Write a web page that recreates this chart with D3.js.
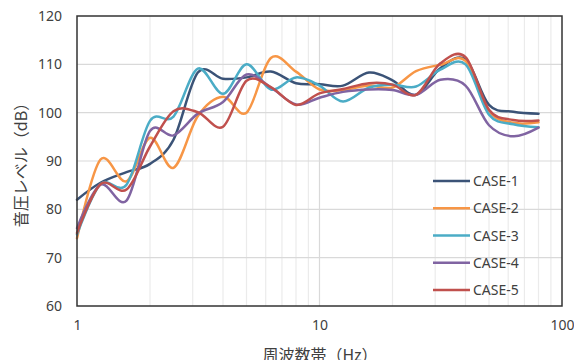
<!DOCTYPE html>
<html>
<head>
<meta charset="utf-8">
<script src="https://cdn.jsdelivr.net/npm/d3@7"></script>
<style>
  html, body { margin: 0; padding: 0; background: #fff; }
  svg { display: block; }
  text { font-family: "Noto Sans", "Noto Sans CJK JP", sans-serif; fill: #404040; }
  .jp { font-family: "Noto Sans CJK JP", sans-serif; }
</style>
</head>
<body>
<svg id="chart" width="574" height="360"></svg>
<script>
// 1/3-octave band centre frequencies (Hz)
const freqs = [1, 1.25, 1.6, 2, 2.5, 3.15, 4, 5, 6.3, 8, 10, 12.5, 16, 20, 25, 31.5, 40, 50, 63, 80];

// Sound pressure level per case (dB)
const case1 = [82.0, 85.5, 87.7, 89.4, 94.4, 108.3, 107.0, 107.3, 108.5, 106.1, 105.9, 105.6, 108.3, 106.7, 103.7, 109.2, 111.0, 101.6, 100.2, 99.8];
const case2 = [74.0, 90.3, 85.8, 94.8, 88.6, 99.3, 103.3, 100.0, 111.3, 108.5, 104.8, 104.7, 105.6, 105.2, 108.6, 109.9, 110.7, 100.3, 97.9, 98.0];
const case3 = [74.8, 85.2, 85.1, 98.3, 99.2, 109.1, 103.9, 110.0, 104.8, 107.3, 105.6, 102.3, 105.2, 105.8, 105.4, 108.9, 110.0, 99.6, 97.6, 97.0];
const case4 = [76.1, 85.1, 81.8, 96.2, 95.3, 99.8, 102.2, 107.9, 105.2, 101.7, 103.1, 104.3, 104.8, 104.7, 103.7, 106.8, 105.6, 97.4, 95.1, 96.9];
const case5 = [75.1, 85.2, 84.1, 93.0, 100.3, 100.1, 97.1, 106.6, 105.3, 101.6, 104.0, 104.9, 106.1, 105.8, 103.7, 110.2, 111.5, 100.6, 98.5, 98.4];

const seriesNames = ["CASE-1", "CASE-2", "CASE-3", "CASE-4", "CASE-5"];
const seriesValues = [case1, case2, case3, case4, case5];
const seriesColors = ["#3b5377", "#f79646", "#4bacc6", "#8064a2", "#c0504d"];

const xTicks = [1, 10, 100];
const yTicks = [60, 70, 80, 90, 100, 110, 120];

const svg = d3.select("#chart");
const plotL = 77, plotR = 562, plotT = 16, plotB = 306;

const x = d3.scaleLog().domain([1, 100]).range([plotL, plotR]);
const y = d3.scaleLinear().domain([60, 120]).range([plotB, plotT]);

// minor log gridlines (2..9 in each decade)
const minor = [];
for (let d = 1; d <= 10; d *= 10) for (let k = 2; k <= 9; k++) minor.push(d * k);

const grid = svg.append("g");
grid.selectAll("line.vminor").data(minor).join("line")
  .attr("x1", d => x(d)).attr("x2", d => x(d))
  .attr("y1", plotT).attr("y2", plotB)
  .attr("stroke", "#ebebeb").attr("stroke-width", 1.2);
grid.selectAll("line.vmajor").data([10]).join("line")
  .attr("x1", d => x(d)).attr("x2", d => x(d))
  .attr("y1", plotT).attr("y2", plotB)
  .attr("stroke", "#d9d9d9").attr("stroke-width", 1.2);
grid.selectAll("line.h").data(yTicks.slice(1, -1)).join("line")
  .attr("x1", plotL).attr("x2", plotR)
  .attr("y1", d => y(d)).attr("y2", d => y(d))
  .attr("stroke", "#d9d9d9").attr("stroke-width", 1.2);

// series curves
const line = d3.line()
  .x((d, i) => x(freqs[i]))
  .y(d => y(d))
  .curve(d3.curveCardinal.tension(0));

svg.append("g").selectAll("path").data(seriesValues).join("path")
  .attr("d", d => line(d))
  .attr("fill", "none")
  .attr("stroke", (d, i) => seriesColors[i])
  .attr("stroke-width", 2.5)
  .attr("stroke-linejoin", "round")
  .attr("stroke-linecap", "round");

// plot frame
svg.append("rect")
  .attr("x", plotL).attr("y", plotT)
  .attr("width", plotR - plotL).attr("height", plotB - plotT)
  .attr("fill", "none").attr("stroke", "#333").attr("stroke-width", 1.5);

// axes labels
const xAxis = d3.axisBottom(x).tickValues(xTicks).tickFormat(d3.format("d")).tickSize(0).tickPadding(14);
const gx = svg.append("g").attr("transform", `translate(0,${plotB})`).call(xAxis);
gx.select(".domain").remove();
gx.selectAll("text").attr("font-size", 14).attr("fill", "#404040")
  .style("font-family", '"Noto Sans", sans-serif');

const yAxis = d3.axisLeft(y).tickValues(yTicks).tickSize(0).tickPadding(15);
const gy = svg.append("g").attr("transform", `translate(${plotL},0)`).call(yAxis);
gy.select(".domain").remove();
gy.selectAll("text").attr("font-size", 14).attr("fill", "#404040")
  .style("font-family", '"Noto Sans", sans-serif');

// axis titles
svg.append("text").attr("class", "jp")
  .attr("transform", "translate(27,161) rotate(-90)")
  .attr("text-anchor", "middle")
  .attr("font-size", 16)
  .text("音圧レベル（dB）");

svg.append("text").attr("class", "jp")
  .attr("x", 320).attr("y", 361)
  .attr("text-anchor", "middle")
  .attr("font-size", 16)
  .text("周波数帯（Hz）");

// legend
const legend = svg.append("g");
const legY = d3.scalePoint().domain(seriesNames).range([181, 290]);
seriesNames.forEach((name, i) => {
  legend.append("line")
    .attr("x1", 433).attr("x2", 470)
    .attr("y1", legY(name)).attr("y2", legY(name))
    .attr("stroke", seriesColors[i]).attr("stroke-width", 2.5);
  legend.append("text")
    .attr("x", 473).attr("y", legY(name) + 5)
    .attr("font-size", 14)
    .text(name);
});
</script>
</body>
</html>
